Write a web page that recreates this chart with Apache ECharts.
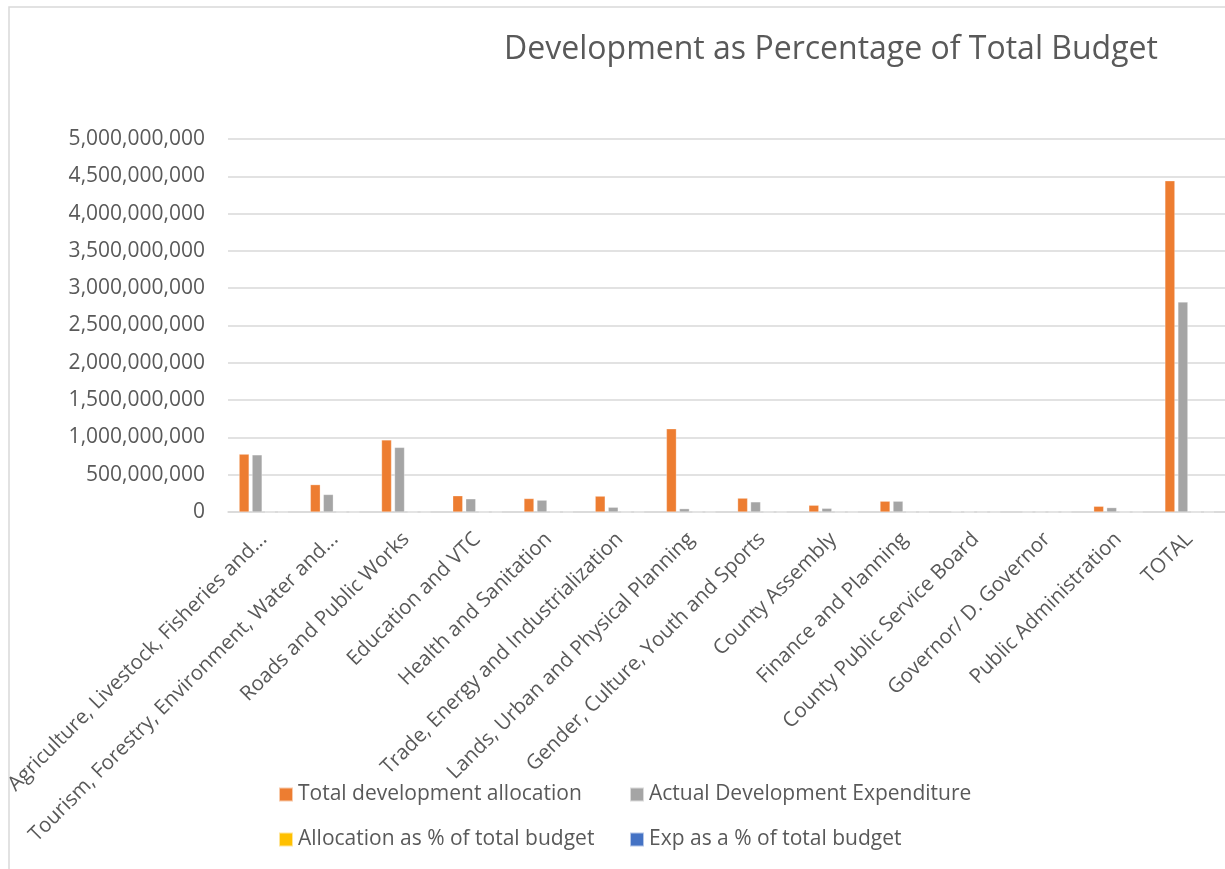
<!DOCTYPE html>
<html>
<head>
<meta charset="utf-8">
<script src="https://cdn.jsdelivr.net/npm/echarts@6/dist/echarts.min.js"></script>
<style>html,body{margin:0;padding:0;background:#fff}#c{width:1225px;height:869px}</style>
</head>
<body>
<div id="c"></div>
<script>
var categories = [
  "Agriculture, Livestock, Fisheries and...",
  "Tourism, Forestry, Environment, Water and...",
  "Roads and Public Works",
  "Education and VTC",
  "Health and Sanitation",
  "Trade, Energy and Industrialization",
  "Lands, Urban and Physical Planning",
  "Gender, Culture, Youth and Sports",
  "County Assembly",
  "Finance and Planning",
  "County Public Service Board",
  "Governor/ D. Governor",
  "Public Administration",
  "TOTAL"
];
var totalAllocation = [776000000, 367000000, 966000000, 218000000, 181000000, 213000000, 1116000000, 186000000, 91000000, 145000000, 5000000, 0, 77000000, 4440000000];
var actualExpenditure = [766000000, 235000000, 866000000, 177000000, 159000000, 64000000, 45000000, 136000000, 50000000, 145000000, 1000000, 0, 59000000, 2816000000];
var allocationPct = [9, 4, 11, 2.5, 2, 2.4, 12.6, 2.1, 1, 1.6, 0.05, 0, 0.9, 50];
var expPct = [8.6, 2.6, 9.8, 2, 1.8, 0.7, 0.5, 1.5, 0.6, 1.6, 0.01, 0, 0.7, 31.7];
var yTicks = { min: 0, max: 5000000000, interval: 500000000 };
var seriesNames = ["Total development allocation", "Actual Development Expenditure", "Allocation as % of total budget", "Exp as a % of total budget"];

var FONT = "Open Sans";
var TXT = "#595959";
var chart = echarts.init(document.getElementById('c'));
function fmt(v){ return String(v).replace(/\B(?=(\d{3})+(?!\d))/g, ","); }
function legendAt(name, left, top){
  return { data:[name], left:left, top:top, itemWidth:14, itemHeight:14, icon:'rect', itemGap:0,
    textStyle:{ fontFamily:FONT, fontSize:21, color:TXT }, selectedMode:false };
}
var colors = ["#ED7D31", "#A5A5A5", "#FFC000", "#4472C4"];
var datas = [totalAllocation, actualExpenditure, allocationPct, expPct];
chart.setOption({
  animation:false,
  title:{ text:"Development as Percentage of Total Budget", left:826, top:29, textAlign:'center',
    textStyle:{ fontFamily:FONT, fontSize:32, fontWeight:'normal', color:TXT } },
  graphic:[{ type:'rect', shape:{x:9, y:7, width:1240, height:880}, style:{fill:'none', stroke:'#D9D9D9', lineWidth:1.5}, silent:true }],
  legend:[
    legendAt(seriesNames[0], 273, 779),
    legendAt(seriesNames[1], 624, 779),
    legendAt(seriesNames[2], 273, 824),
    legendAt(seriesNames[3], 624, 824)
  ],
  grid:{ left:228, top:139, width:1000, height:373, containLabel:false },
  xAxis:{ type:'category', data:categories,
    axisLine:{ lineStyle:{ color:'#D9D9D9', width:1.5 } }, axisTick:{ show:false },
    axisLabel:{ interval:0, rotate:45, fontFamily:FONT, fontSize:20.5, color:TXT, margin:24 } },
  yAxis:{ type:'value', min:yTicks.min, max:yTicks.max, interval:yTicks.interval,
    axisLine:{show:false}, axisTick:{show:false},
    splitLine:{ lineStyle:{ color:'#D9D9D9', width:1.5 } },
    axisLabel:{ fontFamily:FONT, fontSize:21, color:TXT, margin:23, formatter:fmt } },
  series: seriesNames.map(function(n,i){
    return { name:n, type:'bar', data:datas[i], barWidth:10, barGap:'30%',
      itemStyle:{ color:colors[i], borderColor:'rgba(255,255,255,0.6)', borderWidth:0.5 } };
  })
});
</script>
</body>
</html>
